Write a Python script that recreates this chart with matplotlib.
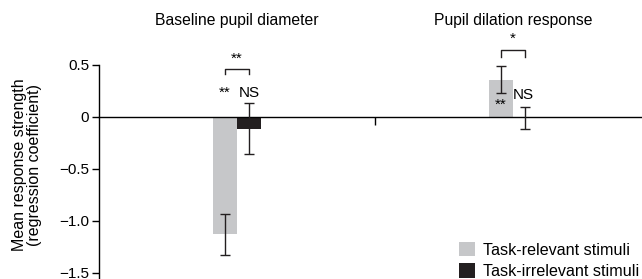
import numpy as np
import matplotlib
matplotlib.use("Agg")
import matplotlib.pyplot as plt
from matplotlib.patches import Patch

plt.rcParams['font.family'] = ['Liberation Sans', 'DejaVu Sans']

groups = ['Baseline pupil diameter', 'Pupil dilation response']
relevant = [-1.13, 0.36]
relevant_err = [0.195, 0.13]
irrelevant = [-0.115, -0.008]
irrelevant_err = [0.245, 0.105]
# significance labels
sig_relevant = ['**', '**']
sig_irrelevant = ['NS', 'NS']
sig_diff = ['**', '*']

gray = '#c6c7c9'
dark = '#231f20'
w = 0.087
fs = 11

fig = plt.figure(figsize=(6.42, 2.79), dpi=100)
ax = fig.add_axes([99 / 642, 0, 1 - 99 / 642, 1])

x = np.arange(len(groups))
ax.bar(x - w / 2, relevant, w, color=gray, zorder=1)
ax.bar(x + w / 2, irrelevant, w, color=dark, zorder=1)
ax.errorbar(x - w / 2, relevant, yerr=relevant_err, fmt='none', ecolor=dark,
            elinewidth=1, capsize=3.5, capthick=1, zorder=3)
ax.errorbar(x + w / 2, irrelevant, yerr=irrelevant_err, fmt='none', ecolor=dark,
            elinewidth=1, capsize=3.5, capthick=1, zorder=3)

ax.set_xlim(-0.5, 1.467)
ax.set_ylim(-1.558, 1.125)

ax.spines['top'].set_visible(False)
ax.spines['right'].set_visible(False)
ax.spines['left'].set_bounds(-1.558, 0.5)
ax.spines['bottom'].set_position(('data', 0))
ax.spines['bottom'].set_zorder(2)
ax.set_xticks([0.5])
ax.set_xticklabels([''])
ax.tick_params(axis='x', length=6, width=1)
ax.set_yticks([0.5, 0, -0.5, -1.0, -1.5])
ax.set_yticklabels(['0.5', '0', '\u22120.5', '\u22121.0', '\u22121.5'])
ax.tick_params(axis='y', length=5, width=1, labelsize=fs, pad=2)
for s in ['left', 'bottom']:
    ax.spines[s].set_linewidth(1)

fig.text(27 / 642, 1 - 165 / 279, 'Mean response strength\n(regression coefficient)',
         rotation=90, ha='center', va='center', fontsize=11.5, linespacing=1.0)

for i, g in enumerate(groups):
    ax.text(x[i], 0.93, g, ha='center', va='center', fontsize=11.3)

# Baseline annotations
ax.text(x[0] - w / 2, 0.235, sig_relevant[0], ha='center', va='center', fontsize=fs)
ax.text(x[0] + w / 2, 0.235, sig_irrelevant[0], ha='center', va='center', fontsize=fs)
ax.plot([x[0] - w / 2, x[0] - w / 2, x[0] + w / 2, x[0] + w / 2],
        [0.41, 0.465, 0.465, 0.41], color=dark, lw=1)
ax.text(x[0], 0.56, sig_diff[0], ha='center', va='center', fontsize=fs)

# Pupil dilation annotations
ax.text(x[1] - w / 2, 0.12, sig_relevant[1], ha='center', va='center', fontsize=fs)
ax.text(x[1] + w / 2 - 0.005, 0.21, sig_irrelevant[1], ha='center', va='center', fontsize=fs)
ax.plot([x[1] - w / 2, x[1] - w / 2, x[1] + w / 2, x[1] + w / 2],
        [0.58, 0.645, 0.645, 0.58], color=dark, lw=1)
ax.text(x[1], 0.75, sig_diff[1], ha='center', va='center', fontsize=fs)

handles = [Patch(facecolor=gray, edgecolor='none', label='Task-relevant stimuli'),
           Patch(facecolor=dark, edgecolor='none', label='Task-irrelevant stimuli')]
ax.legend(handles=handles, loc='lower right', bbox_to_anchor=(1.012, -0.035),
          frameon=False, fontsize=11.6, handlelength=0.95, handleheight=1.0,
          handletextpad=0.5, labelspacing=0.35, borderaxespad=0.2)

fig.savefig('out.png', dpi=100)
